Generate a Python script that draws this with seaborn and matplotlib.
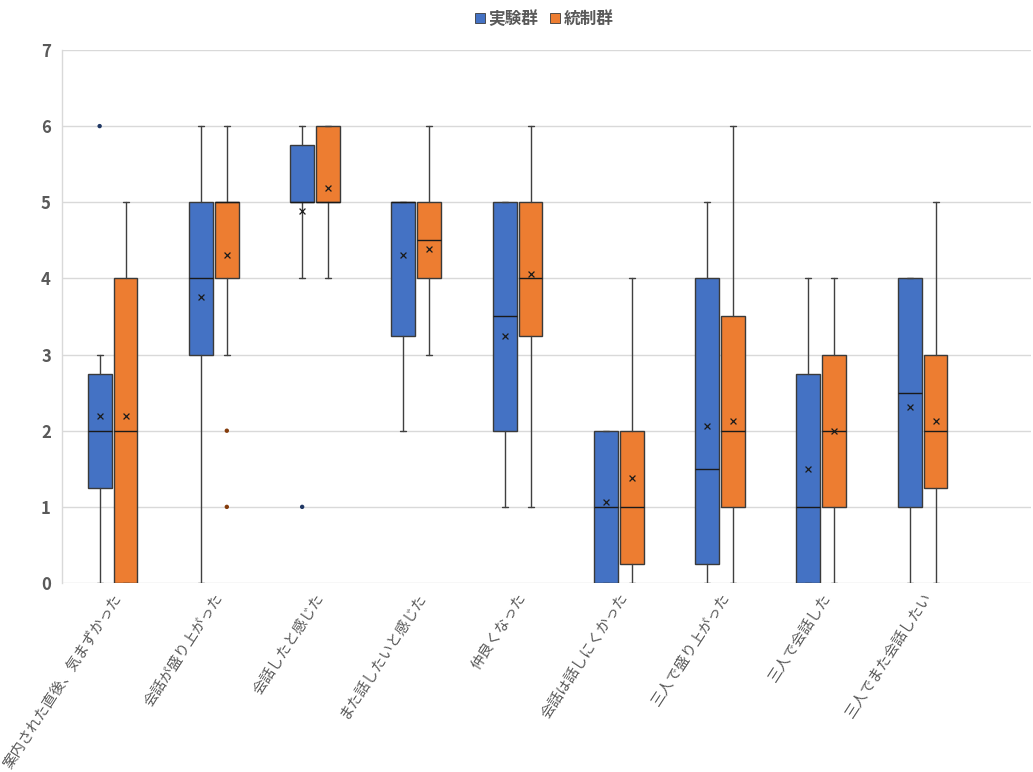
import matplotlib
matplotlib.use("Agg")
import matplotlib.pyplot as plt
import matplotlib.transforms as mtransforms
import seaborn as sns
import pandas as pd
import numpy as np
from matplotlib.lines import Line2D

# Survey items (x-axis categories)
categories = [
    "案内された直後、気まずかった",
    "会話が盛り上がった",
    "会話したと感じた",
    "また話したいと感じた",
    "仲良くなった",
    "会話は話しにくかった",
    "三人で盛り上がった",
    "三人で会話した",
    "三人でまた会話したい",
]
groups = ["実験群", "統制群"]

# Experimental group box statistics
exp_whislo = [0, 0, 4, 2, 1, 0, 0, 0, 0]
exp_q1 = [1.25, 3, 5, 3.25, 2, 0, 0.25, 0, 1]
exp_med = [2, 4, 5, 5, 3.5, 1, 1.5, 1, 2.5]
exp_q3 = [2.75, 5, 5.75, 5, 5, 2, 4, 2.75, 4]
exp_whishi = [3, 6, 6, 5, 5, 2, 5, 4, 4]
exp_mean = [2.19, 3.75, 4.88, 4.31, 3.25, 1.06, 2.06, 1.5, 2.31]
exp_fliers = [[6], [], [1], [], [], [], [], [], []]

# Control group box statistics
ctrl_whislo = [0, 3, 4, 3, 1, 0, 0, 0, 0]
ctrl_q1 = [0, 4, 5, 4, 3.25, 0.25, 1, 1, 1.25]
ctrl_med = [2, 5, 5, 4.5, 4, 1, 2, 2, 2]
ctrl_q3 = [4, 5, 6, 5, 5, 2, 3.5, 3, 3]
ctrl_whishi = [5, 6, 6, 6, 6, 4, 6, 4, 5]
ctrl_mean = [2.19, 4.31, 5.19, 4.38, 4.06, 1.38, 2.13, 2.0, 2.13]
ctrl_fliers = [[], [2, 1], [], [], [], [], [], [], []]

y_ticks = [0, 1, 2, 3, 4, 5, 6, 7]

colors = {"実験群": "#4472C4", "統制群": "#ED7D31"}
flier_colors = {"実験群": "#203864", "統制群": "#843C0C"}
offsets = {"実験群": -0.128, "統制群": 0.128}
box_w = 0.235

sns.set_theme(style="white")
plt.rcParams["font.family"] = ["Noto Sans CJK JP", "DejaVu Sans"]

fig = plt.figure(figsize=(10.33, 7.72), dpi=100)
ax = fig.add_axes([0.060, 0.2448, 0.938, 0.6905])

series = {
    "実験群": (exp_whislo, exp_q1, exp_med, exp_q3, exp_whishi, exp_mean, exp_fliers),
    "統制群": (ctrl_whislo, ctrl_q1, ctrl_med, ctrl_q3, ctrl_whishi, ctrl_mean, ctrl_fliers),
}

rows = []
for g in groups:
    lo, q1, med, q3, hi, mean, fl = series[g]
    stats = []
    for i in range(len(categories)):
        stats.append(dict(whislo=lo[i], q1=q1[i], med=med[i], q3=q3[i],
                          whishi=hi[i], fliers=[], label=categories[i]))
        rows.append(dict(kind="mean", group=g, x=i + offsets[g], value=mean[i]))
        for v in fl[i]:
            rows.append(dict(kind="flier", group=g, x=i + offsets[g], value=v))
    pos = np.arange(len(categories)) + offsets[g]
    ax.bxp(stats, positions=pos, widths=box_w, patch_artist=True,
           showfliers=False, manage_ticks=False,
           boxprops=dict(facecolor=colors[g], edgecolor="#3a3a3a", linewidth=1.0),
           medianprops=dict(color="#1a1a1a", linewidth=1.0),
           whiskerprops=dict(color="#404040", linewidth=1.0),
           capprops=dict(color="#404040", linewidth=1.0),
           capwidths=0.06, zorder=3)

points = pd.DataFrame(rows)
means = points[points["kind"] == "mean"]
fliers = points[points["kind"] == "flier"]

sns.scatterplot(data=means, x="x", y="value", marker="x", color="#1a1a1a",
                s=18, linewidth=0.9, ax=ax, zorder=5, legend=False)
sns.scatterplot(data=fliers, x="x", y="value", hue="group",
                palette=flier_colors, s=10, linewidth=0, ax=ax, zorder=5,
                legend=False)

ax.set_xlim(-0.5, 9.07)
ax.set_ylim(0, 7)
ax.set_yticks(y_ticks)
ax.set_yticklabels([str(t) for t in y_ticks], fontsize=12,
                   fontweight="bold", color="#595959")
ax.set_xticks(np.arange(len(categories)))
ax.set_xticklabels([])
ax.tick_params(axis="x", length=0)
ax.tick_params(axis="y", length=0, pad=8)
ax.set_xlabel("")
ax.set_ylabel("")

# Rotated category labels, anchored just below each category position
label_tr = ax.get_xaxis_transform() + mtransforms.ScaledTranslation(
    6 / 100, -12 / 100, fig.dpi_scale_trans)
for i, name in enumerate(categories):
    ax.text(i, 0, name, transform=label_tr, rotation=57, ha="right",
            va="center", rotation_mode="anchor", fontsize=10.5,
            color="#595959")

ax.yaxis.grid(True, color="#D9D9D9", linewidth=1.0, zorder=0)
ax.xaxis.grid(False)
ax.set_axisbelow(True)
for side in ["top", "right", "bottom"]:
    ax.spines[side].set_visible(False)
ax.spines["left"].set_color("#D9D9D9")
ax.spines["left"].set_linewidth(1.0)

handles = [Line2D([0], [0], marker="s", linestyle="", markersize=6.5,
                  markerfacecolor=colors[g], markeredgecolor="#3a3a3a",
                  markeredgewidth=0.6, label=g) for g in groups]
leg = fig.legend(handles=handles, loc="center",
                 bbox_to_anchor=(0.526, 0.976), ncol=2, frameon=False,
                 handletextpad=0.1, columnspacing=0.6, handlelength=0.8,
                 prop=dict(size=12, weight="bold"))
for t in leg.get_texts():
    t.set_color("#595959")

fig.savefig("out.png", dpi=100, facecolor="white")
